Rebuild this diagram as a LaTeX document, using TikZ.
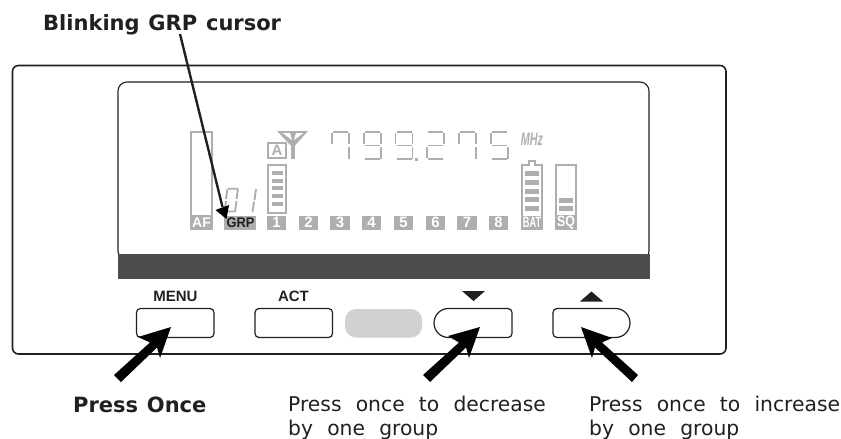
\documentclass[tikz,border=0pt]{standalone}
\usepackage{fontspec}
\setmainfont{DejaVu Sans}
\newfontfamily\arialf{Liberation Sans}
\newfontfamily\wideR[WordSpace=2.2]{DejaVu Sans}
\newfontfamily\wideB[WordSpace=1.2]{DejaVu Sans Bold}
\definecolor{lcd}{HTML}{AEAEAE}
\definecolor{barc}{HTML}{4D4D4F}
\definecolor{bline}{HTML}{231F20}
\tikzset{
  body/.style={draw=bline,line width=1.6pt,rounded corners=6pt},
  lcdframe/.style={draw=bline,line width=1.1pt,rounded corners=9pt},
  btn/.style={draw=bline,line width=1.2pt,fill=white},
  seg/.style={draw=lcd,line width=1.9pt,line cap=butt},
  keycap/.style={font=\arialf\bfseries\fontsize{15}{15}\selectfont,text=bline,inner sep=0pt},
  chip/.style={fill=lcd,inner sep=0pt,minimum width=19.5pt,minimum height=14pt,font=\arialf\bfseries\fontsize{15}{15}\selectfont,text=white},
  note/.style={font=\wideR\fontsize{20.3}{24.3}\selectfont,align=left,anchor=north west,inner sep=0pt,text=bline},
  noteb/.style={font=\wideB\fontsize{21}{24}\selectfont,inner sep=0pt,anchor=base west,text=bline},
  frameb/.style={draw=lcd,line width=2.2pt},
  fat/.style={fill=black!90!bline},
}
\newcommand{\sA}{\draw[seg] (2,1)--(17,1);}
\newcommand{\sB}{\draw[seg] (18,2)--(18,13);}
\newcommand{\sC}{\draw[seg] (18,16)--(18,28);}
\newcommand{\sD}{\draw[seg] (2,28.3)--(17,28.3);}
\newcommand{\sE}{\draw[seg] (1,16)--(1,27);}
\newcommand{\sF}{\draw[seg] (1,2)--(1,13);}
\newcommand{\sG}{\draw[seg] (2,14.5)--(17,14.5);}
\begin{document}
\begin{tikzpicture}[x=1pt,y=-1pt]
\useasboundingbox (0,0) rectangle (841,439);
\path[body] (12.5,65.5) rectangle (726,354);
\path[lcdframe] (118,82) rectangle (649,260);
\fill[barc] (117.5,254) rectangle (649.5,279);
% AF
\draw[frameb] (191,132) rectangle (212,216);
\node[chip,minimum width=23pt,font=\arialf\bfseries\fontsize{14}{14}\selectfont] (af) at (201.5,222.5) {AF};
% GRP
\node[chip,minimum width=32pt] (grp) at (240,223) {};
\node[inner sep=0pt,text=bline,font=\arialf\bfseries\fontsize{14}{14}\selectfont,xscale=0.92] (grpt) at (240.5,223) {GRP};
% 01
\draw[seg] (228,188.7)--(238,188.7) (238,189)--(236.5,199) (236.5,201)--(235,212) (225,211.5)--(234,211.5) (224.5,211)--(226,201) (226,199)--(227.5,189);
\draw[seg] (256,189)--(254.5,200) (254,201.5)--(252.5,212);
% antenna and A
\node[draw=lcd,line width=2.2pt,minimum width=17.5pt,minimum height=15pt,inner sep=0pt,text=lcd,font=\arialf\bfseries\fontsize{15}{15}\selectfont] (anta) at (277,150.5) {A};
\draw[lcd,line width=3.2pt] (293,136)--(293,159);
\fill[lcd] (277,131)--(308,131)--(293.8,147)--(292.2,147)--cycle;
\fill[white] (282.5,133)--(290,133)--(292,140)--cycle (303.5,133)--(296,133)--(294,140)--cycle;
% signal meter
\draw[frameb] (268,165) rectangle (286,213);
\foreach \y in {173,181,188,196,204}{\fill[lcd] (271.5,\y-2) rectangle (282.5,\y+2);}
% group chips
\foreach \x/\t in {276.5/1,308.5/2,340/3,371.5/4,403.5/5,435.5/6,467/7,498.5/8}{\node[chip] (c\t) at (\x,222.5) {\t};}
% digits
\begin{scope}[shift={(331,131)}]\sA\sB\sC\sF\end{scope}
\begin{scope}[shift={(363,131)}]\sA\sB\sC\sD\sF\sG\end{scope}
\begin{scope}[shift={(394.5,131)}]\sA\sB\sC\sD\sF\sG\fill[lcd] (20,26.5) rectangle (23,29.5);\end{scope}
\begin{scope}[shift={(426,131)}]\sA\sB\sD\sE\sG\end{scope}
\begin{scope}[shift={(458,131)}]\sA\sB\sC\sF\end{scope}
\begin{scope}[shift={(490,131)}]\sA\sC\sD\sF\sG\end{scope}
\node[font=\arialf\bfseries\itshape\fontsize{18}{18}\selectfont,text=lcd,inner sep=0pt,xscale=0.6] (mhz) at (532,139) {MHz};
% battery
\draw[frameb] (522,216)--(522,165)--(529,165)--(529,161)--(535,161)--(535,165)--(542,165)--(542,216);
\foreach \y in {173,182,191,199,208}{\fill[lcd] (525,\y-2.5) rectangle (538.5,\y+2.5);}
\fill[lcd] (521,216) rectangle (543,229.5);
\node[inner sep=0pt,font=\arialf\bfseries\fontsize{15}{15}\selectfont,text=white,xscale=0.62] (bat) at (532,222.8) {BAT};
% SQ
\draw[frameb] (556,165) rectangle (576,216);
\foreach \y in {200,208.5}{\fill[lcd] (559,\y-2.5) rectangle (573,\y+2.5);}
\fill[lcd] (555,216) rectangle (577,229.5);
\node[inner sep=0pt,font=\arialf\bfseries\fontsize{15}{15}\selectfont,text=white,xscale=0.82] (sq) at (566,222.8) {SQ};
% button labels
\node[keycap] (menu) at (175.5,296.5) {MENU};
\node[keycap] (act) at (293.5,296.5) {ACT};
\fill[bline] (462,291)--(485,291)--(473.5,301)--cycle;
\fill[bline] (580,301.5)--(603,301.5)--(591.5,291.5)--cycle;
% buttons
\draw[btn,rounded corners=4pt] (136.5,308.5) rectangle (214,337.5);
\draw[btn,rounded corners=4pt] (255,308.5) rectangle (332.5,337.5);
\fill[black!18,rounded corners=11pt] (345,309) rectangle (422,337.5);
\draw[btn] (448.5,308.5) -- (508,308.5) arc[start angle=-90,end angle=0,radius=4] -- (512,333.5) arc[start angle=0,end angle=90,radius=4] -- (448.5,337.5) arc[start angle=90,end angle=270,radius=14.5] -- cycle;
\draw[btn] (553,312.5) arc[start angle=180,end angle=270,radius=4] -- (615.5,308.5) arc[start angle=-90,end angle=90,radius=14.5] -- (557,337.5) arc[start angle=90,end angle=180,radius=4] -- cycle;
% fat arrows
\fill[fat] (171,327)--(160,358)--(157,347.5)--(121,382)--(114,375)--(150,342.5)--(138,337)--cycle;
\fill[fat] (480,327)--(469,358)--(466,347.5)--(430,382)--(423,375)--(459,342.5)--(448,336)--cycle;
\fill[fat] (581,327)--(612,338)--(602,342.5)--(638,375)--(632,382)--(595,347.5)--(592,358)--cycle;
% blink arrow
\coordinate (bt) at (180,34);
\coordinate (bh) at (222.5,207);
\coordinate (bc) at (226.5,219);
\draw[bline,line width=2.4pt] (bt)--(bh);
\fill[black] (bc)--(215.5,210)--(229,205)--cycle;
% texts
\node[noteb] (blink) at (43,30) {Blinking GRP cursor};
\node[noteb] (once) at (73,412) {Press Once};
\node[note] (dec) at (288,395.5) {Press once to decrease\\by one group};
\node[note] (inc) at (589,395.5) {Press once to increase\\by one group};
\end{tikzpicture}
\end{document}
